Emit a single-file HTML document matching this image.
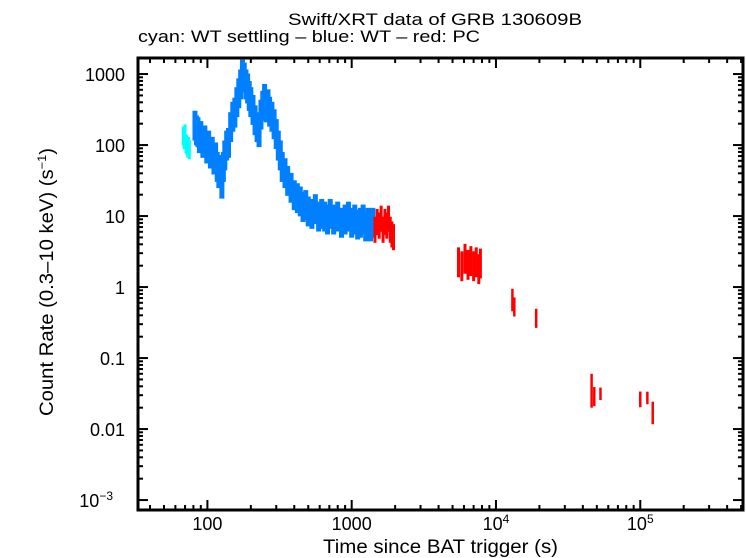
<!DOCTYPE html>
<html><head><meta charset="utf-8"><style>
html,body{margin:0;padding:0;background:#fff;}
svg{display:block;font-family:"Liberation Sans",sans-serif;}
</style></head><body>
<svg id="chart" width="746" height="558" viewBox="0 0 746 558">
<text x="288" y="25" font-size="16.5" textLength="294" lengthAdjust="spacingAndGlyphs">Swift/XRT data of GRB 130609B</text>
<text x="138" y="42" font-size="16.5" textLength="342" lengthAdjust="spacingAndGlyphs">cyan: WT settling – blue: WT – red: PC</text>
<text x="323" y="553" font-size="19" textLength="235" lengthAdjust="spacingAndGlyphs">Time since BAT trigger (s)</text>
<text transform="translate(53,416) rotate(-90)" font-size="19" textLength="268" lengthAdjust="spacingAndGlyphs">Count Rate (0.3–10 keV) (s<tspan dy="-7" font-size="12">−1</tspan><tspan dy="7">)</tspan></text>
<g id="ticks"></g>
<g id="marks"></g>
<rect x="138" y="58" width="605" height="452" fill="none" stroke="#000" stroke-width="3"/>
</svg>
<script>
const xTickVals=[100,1000,10000,100000];
const xTickLabels=["100","1000","10","10"];
const xTickSup=["","","4","5"];
const yTickVals=[1000,100,10,1,0.1,0.01,0.001];
const yTickLabels=["1000","100","10","1","0.1","0.01","10"];
const cyanT=[68,69,70,71,72,73,74,75];
const cyanY=[140,125,150,110,105,95,100,90];
const blueT=[82,84,86,88,90,93,96,99,102,105,108,111,114,117,120,123,126,129,132,136,140,145,150,155,160,165,170,175,180,185,190,195,200,207,214,221,228,235,242,249,256,263,270,280,290,300,310,320,330,345,360,380,400,420,440,460,480,500,530,560,590,620,650,680,710,750,800,850,900,950,1000,1050,1100,1150,1200,1250,1300,1350,1400];
const blueY=[210,180,170,140,150,120,130,100,110,85,90,70,75,55,45,50,32,55,80,110,120,200,280,320,450,600,800,1100,1000,800,700,550,450,350,250,200,170,300,400,500,380,420,330,280,220,160,110,80,55,45,35,28,22,20,18,15,16,13,12,14,11,12,11,10,12,10,11,9,10,11,9,10,8.5,9,10,8,9,8,9];
const redT=[1450,1500,1550,1600,1650,1700,1750,1800,1850,1900,1950];
const redY=[7,9,8,10,7,9,8,10,7,6,5.5];
const red2T=[5500,5800,6100,6400,6700,7000,7300,7600,7800];
const red2Y=[2.5,2.2,2.8,2.3,2.6,2.2,2.5,2.0,2.4];
const red3T=[13000,13400,19000,46000,48000,53000,100000,112000,122000];
const red3Y=[0.7,0.55,0.38,0.04,0.03,0.032,0.027,0.028,0.018];
const red3E=[0.35,0.3,0.3,0.5,0.3,0.2,0.25,0.2,0.35];

const X0=138,X1=743,Y0=58,Y1=510;
const LX0=1.519,LX1=5.712,LY0=3.226,LY1=-3.14;
function xs(t){return X0+(Math.log10(t)-LX0)/(LX1-LX0)*(X1-X0);}
function ys(v){return Y0+(Math.log10(v)-LY0)/(LY1-LY0)*(Y1-Y0);}
const NS="http://www.w3.org/2000/svg";
const ticks=document.getElementById('ticks');
const marks=document.getElementById('marks');
function mk(tag,attrs,parent){const e=document.createElementNS(NS,tag);for(const k in attrs)e.setAttribute(k,attrs[k]);parent.appendChild(e);return e;}
for(let d=1;d<=5;d++){for(let m=1;m<=9;m++){const t=m*Math.pow(10,d);const x=xs(t);if(x<X0||x>X1)continue;const L=m===1?10:5;
const a=mk('line',{x1:x,x2:x,y1:Y1,y2:Y1-L,stroke:'#000','stroke-width':2},ticks);


const b=mk('line',{x1:x,x2:x,y1:Y0,y2:Y0+L,stroke:'#000','stroke-width':2},ticks);

}}
xTickVals.forEach((v,i)=>{const tx=mk('text',{x:xs(v),y:530,'font-size':18,'text-anchor':'middle'},ticks);


tx.textContent=xTickLabels[i];
if(xTickSup[i]){const s=mk('tspan',{dy:-7,'font-size':12},tx);s.textContent=xTickSup[i];}});
for(let d=-3;d<=3;d++){for(let m=1;m<=9;m++){const v=m*Math.pow(10,d);const y=ys(v);if(y<Y0||y>Y1)continue;const L=m===1?10:5;
const a=mk('line',{x1:X0,x2:X0+L,y1:y,y2:y,stroke:'#000','stroke-width':2},ticks);


const b=mk('line',{x1:X1,x2:X1-L,y1:y,y2:y,stroke:'#000','stroke-width':2},ticks);

}}
yTickVals.forEach((v,i)=>{const tx=mk('text',{x:125,y:ys(v)+7,'font-size':18,'text-anchor':'end'},ticks);


tx.textContent=yTickLabels[i];
if(v===0.001){tx.setAttribute('x',113);const s=mk('tspan',{dy:-7,'font-size':12},tx);s.textContent='−3';}});
function series(T,Y,E,def,color,name,w){T.forEach((t,i)=>{const e=E?E[i]:def;const v=Y[i];
const l=mk('line',{x1:xs(t),x2:xs(t),y1:ys(v*(1+e)),y2:ys(v*(1-e)),stroke:color,'stroke-width':w},marks);


const h=mk('line',{x1:xs(t*0.985),x2:xs(t*1.015),y1:ys(v),y2:ys(v),stroke:color,'stroke-width':2},marks);

});}
series(cyanT,cyanY,null,0.3,'#00ffff','cyan-point',3);
series(blueT,blueY,null,0.45,'#0080ff','blue-point',5);
series(redT,redY,null,0.4,'#ff0000','red-point',3);
series(red2T,red2Y,null,0.45,'#ff0000','red-point',3);
series(red3T,red3Y,red3E,0.3,'#ff0000','red-point',2.5);
</script>
</body></html>
